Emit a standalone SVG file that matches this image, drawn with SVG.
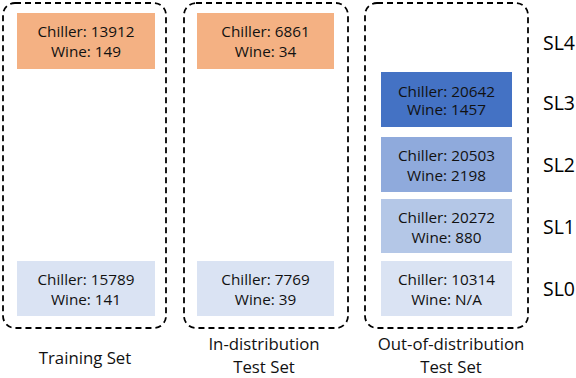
<svg xmlns="http://www.w3.org/2000/svg" width="576" height="378" viewBox="0 0 576 378">
<style>
.frame{fill:none;stroke:#000;stroke-width:1.8;stroke-dasharray:6,4}
.box text,.lbl{font-family:"Open Sans","Liberation Sans",Arial,sans-serif;fill:#111}
.box text{font-size:15.3px;text-anchor:middle}
.lbl{font-size:16.8px;text-anchor:middle}
.sl{font-family:"Open Sans","Liberation Sans",Arial,sans-serif;font-size:19.5px;fill:#000}
.or{fill:#F4B183}
.b3{fill:#4472C4}
.b2{fill:#8FAADC}
.b1{fill:#B4C7E7}
.b0{fill:#DAE3F3}
</style>
<rect x="0" y="0" width="576" height="378" fill="#fff"/>
<g id="training-set">
<rect class="frame" x="3" y="3" width="163" height="325" rx="12"/>
<text class="lbl" x="85" y="364">Training Set</text>
</g>
<g id="id-test-set">
<rect class="frame" x="184" y="3" width="164" height="325" rx="12"/>
<text class="lbl" x="264" y="350">In-distribution</text>
<text class="lbl" x="264" y="373">Test Set</text>
</g>
<g id="ood-test-set">
<rect class="frame" x="365" y="3" width="163" height="325" rx="12"/>
<text class="lbl" x="451" y="350">Out-of-distribution</text>
<text class="lbl" x="451" y="373">Test Set</text>
</g>
<g id="train-sl4" class="box"><rect class="or" x="17" y="13" width="138" height="56"/><text x="86" y="37">Chiller: 13912</text><text x="86" y="56.5">Wine: 149</text></g>
<g id="train-sl0" class="box"><rect class="b0" x="17" y="261" width="138" height="55"/><text x="86" y="285">Chiller: 15789</text><text x="86" y="304.5">Wine: 141</text></g>
<g id="id-sl4" class="box"><rect class="or" x="197" y="13" width="137" height="56"/><text x="265.5" y="37">Chiller: 6861</text><text x="265.5" y="56.5">Wine: 34</text></g>
<g id="id-sl0" class="box"><rect class="b0" x="197" y="261" width="137" height="55"/><text x="265.5" y="285">Chiller: 7769</text><text x="265.5" y="304.5">Wine: 39</text></g>
<g id="ood-sl3" class="box"><rect class="b3" x="381" y="72" width="131" height="55"/><text x="446.5" y="96.5">Chiller: 20642</text><text x="446.5" y="115">Wine: 1457</text></g>
<g id="ood-sl2" class="box"><rect class="b2" x="381" y="137" width="131" height="55"/><text x="446.5" y="161">Chiller: 20503</text><text x="446.5" y="180.5">Wine: 2198</text></g>
<g id="ood-sl1" class="box"><rect class="b1" x="381" y="199" width="131" height="54"/><text x="446.5" y="223">Chiller: 20272</text><text x="446.5" y="242.5">Wine: 880</text></g>
<g id="ood-sl0" class="box"><rect class="b0" x="381" y="261" width="131" height="55"/><text x="446.5" y="285">Chiller: 10314</text><text x="446.5" y="304.5">Wine: N/A</text></g>
<g id="levels">
<text class="sl" x="543" y="50">SL4</text>
<text class="sl" x="543" y="110">SL3</text>
<text class="sl" x="543" y="172">SL2</text>
<text class="sl" x="543" y="234">SL1</text>
<text class="sl" x="543" y="296">SL0</text>
</g>
<g id="connectors"></g>
</svg>
